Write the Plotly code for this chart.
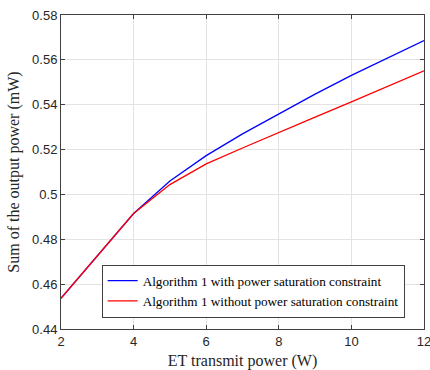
import plotly.graph_objects as go

x_vals = [2, 3, 4, 5, 6, 7, 8, 9, 10, 11, 12]
with_constraint = [0.4537, 0.4726, 0.4915, 0.5060, 0.5173, 0.5270, 0.5358, 0.5447, 0.5531, 0.5609, 0.5686]
without_constraint = [0.4537, 0.4726, 0.4915, 0.5044, 0.5136, 0.5207, 0.5277, 0.5345, 0.5413, 0.5482, 0.5551]
series_names = ["Algorithm 1 with power saturation constraint",
                "Algorithm 1 without power saturation constraint"]
x_ticks = [2, 4, 6, 8, 10, 12]
y_ticks = [0.44, 0.46, 0.48, 0.5, 0.52, 0.54, 0.56, 0.58]
y_tick_text = ["0.44", "0.46", "0.48", "0.5", "0.52", "0.54", "0.56", "0.58"]

fig = go.Figure()
fig.add_trace(go.Scatter(x=x_vals, y=with_constraint, mode="lines", name=series_names[0],
                         line=dict(color="#0000ff", width=1.3)))
fig.add_trace(go.Scatter(x=x_vals, y=without_constraint, mode="lines", name=series_names[1],
                         line=dict(color="#ff0000", width=1.3)))

axis_common = dict(
    showline=True, linecolor="#404040", linewidth=1, mirror="ticks",
    ticks="inside", ticklen=4, tickcolor="#404040", tickwidth=1,
    showgrid=True, gridcolor="#e3e3e3", gridwidth=1, zeroline=False,
    automargin=False, ticklabeloverflow="allow",
    tickfont=dict(family="Liberation Sans, Arial, sans-serif", size=13, color="#262626"),
)

serif = "Liberation Serif, Times New Roman, serif"

fig.update_layout(
    width=430, height=370,
    margin=dict(l=61, r=6, t=15, b=41),
    paper_bgcolor="white", plot_bgcolor="white",
    showlegend=True,
    legend=dict(x=0.112, y=0.205, xanchor="left", yanchor="top",
                bgcolor="white", bordercolor="#404040", borderwidth=1,
                font=dict(family=serif, size=13.2, color="#000000"),
                tracegroupgap=0),
    xaxis=dict(range=[2, 12], tickvals=x_ticks,
               title=dict(text="ET transmit power (W)", standoff=7,
                          font=dict(family=serif, size=16, color="#262626")),
               **axis_common),
    yaxis=dict(range=[0.44, 0.58], tickvals=y_ticks, ticktext=y_tick_text,
               title=dict(text="Sum of the output power (mW)", standoff=8,
                          font=dict(family=serif, size=16, color="#262626")),
               **axis_common),
)

fig.write_html("out.html",
               config={"displayModeBar": False},
               post_script="document.body.style.margin='0';document.body.style.overflow='hidden';")
